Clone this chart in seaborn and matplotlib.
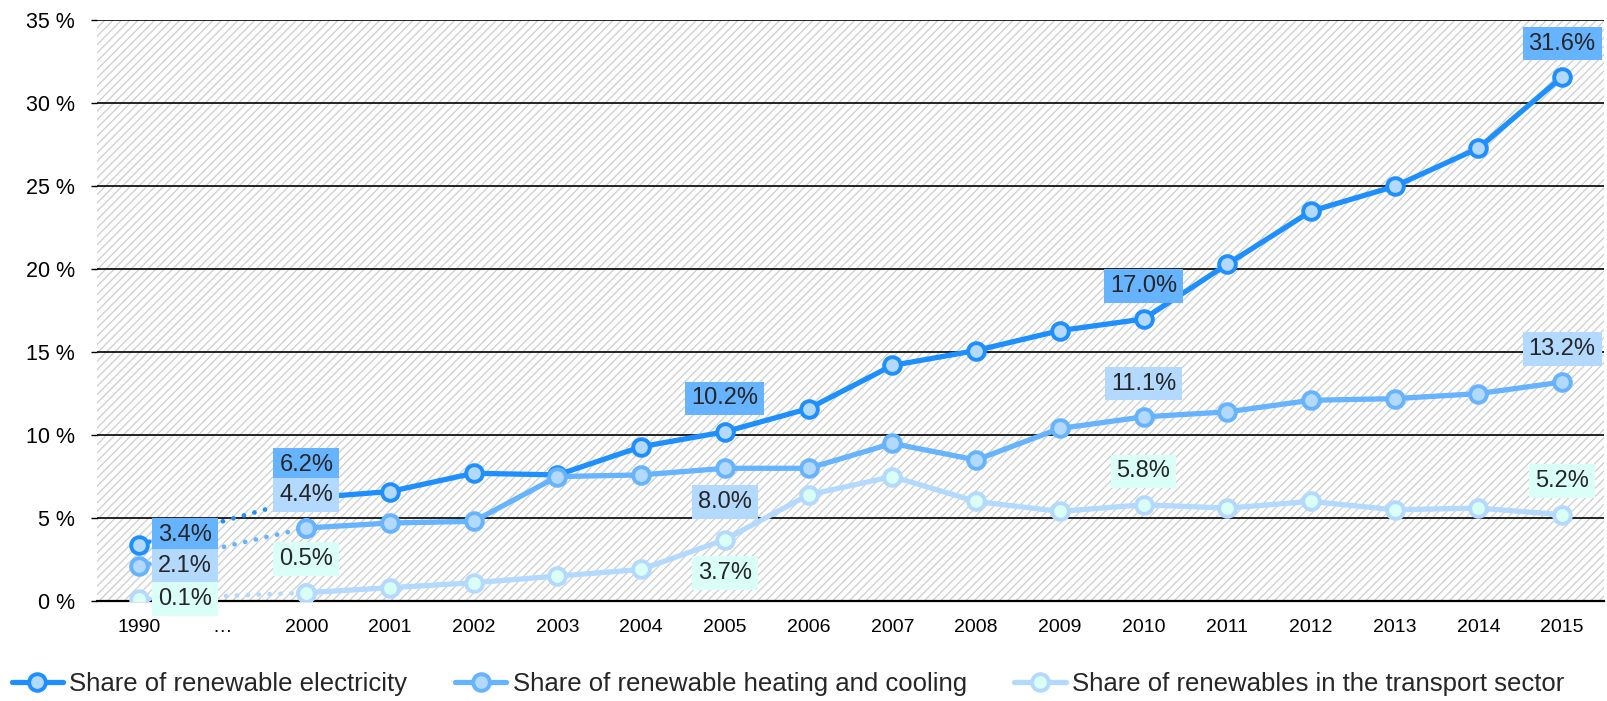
import pandas as pd
import matplotlib.pyplot as plt
import seaborn as sns
from matplotlib.patches import Rectangle
from matplotlib.lines import Line2D

sns.set_theme(style="white")
plt.rcParams['font.family'] = ['Liberation Sans', 'DejaVu Sans']
plt.rcParams['hatch.linewidth'] = 0.9

# --- data ---
years = ['1990', '…', '2000', '2001', '2002', '2003', '2004', '2005', '2006',
         '2007', '2008', '2009', '2010', '2011', '2012', '2013', '2014', '2015']
electricity = [3.4, None, 6.2, 6.6, 7.7, 7.6, 9.3, 10.2, 11.6, 14.2, 15.1,
               16.3, 17.0, 20.3, 23.5, 25.0, 27.3, 31.6]
heating = [2.1, None, 4.4, 4.7, 4.8, 7.5, 7.6, 8.0, 8.0, 9.5, 8.5,
           10.4, 11.1, 11.4, 12.1, 12.2, 12.5, 13.2]
transport = [0.1, None, 0.5, 0.8, 1.1, 1.5, 1.9, 3.7, 6.4, 7.5, 6.0,
             5.4, 5.8, 5.6, 6.0, 5.5, 5.6, 5.2]
series_names = ['Share of renewable electricity',
                'Share of renewable heating and cooling',
                'Share of renewables in the transport sector']
y_ticks = [0, 5, 10, 15, 20, 25, 30, 35]

df = pd.DataFrame({'year': years, 'pos': range(len(years)),
                   'electricity': electricity, 'heating': heating,
                   'transport': transport})

# style per series: line colour, marker face, label box colour, label placement
styles = {
    'electricity': dict(line='#1E8FFF', face='#B3D9FF', box='#66B3FF',
                        labels={0: 'right_up', 2: 'above', 7: 'above', 12: 'above', 17: 'above'}),
    'heating': dict(line='#66B3FF', face='#B3D9FF', box='#B3D9FF',
                    labels={0: 'right', 2: 'above', 7: 'below', 12: 'above', 17: 'above'}),
    'transport': dict(line='#B3D9FF', face='#D9FFF7', box='#D9FFF7',
                      labels={0: 'right', 2: 'above', 7: 'below', 12: 'above', 17: 'above'}),
}
offsets = {'above': (0, 24), 'below': (0, -24), 'right': (14, 0), 'right_up': (14, 7)}

fig = plt.figure(figsize=(16.08, 7.01), dpi=100)
ax = fig.add_axes([0.0603, 0.1427, 0.9372, 0.8281])

# hatched plot background
ax.add_patch(Rectangle((0, 0), 1, 1, transform=ax.transAxes, facecolor='white',
                       edgecolor='#cdcdcd', hatch='////', lw=0, zorder=0))

for col, st in styles.items():
    mk = dict(marker='o', markersize=12, markerfacecolor=st['face'],
              markeredgecolor=st['line'], markeredgewidth=2.8)
    # dotted bridge 1990 -> 2000
    sns.lineplot(data=df.iloc[[0, 2]], x='pos', y=col, color=st['line'], lw=3.4,
                 linestyle=(0, (0.01, 2.3)), dash_capstyle='round', ax=ax, zorder=3, **mk)
    # solid line from 2000 on
    sns.lineplot(data=df[df['pos'] >= 2], x='pos', y=col, color=st['line'], lw=3.8,
                 ax=ax, zorder=3, **mk)
    for idx, where in st['labels'].items():
        v = df[col].iloc[idx]
        dx, dy = offsets[where]
        ax.annotate(f'{v:.1f}%', xy=(idx, v), xytext=(dx, dy), textcoords='offset points',
                    ha='left' if where.startswith('right') else 'center', va='center',
                    fontsize=17, zorder=6,
                    bbox=dict(boxstyle='square,pad=0.25', fc=st['box'], ec='none'))

ax.set_xlim(-0.5, len(years) - 0.5)
ax.set_ylim(0, 35)
ax.set_yticks(y_ticks)
ax.set_yticklabels([f'{t} %' for t in y_ticks])
ax.set_xticks(range(len(years)))
ax.set_xticklabels(years)
ax.set_xticks([i - 0.5 for i in range(len(years) + 1)], minor=True)
ax.tick_params(axis='x', which='major', length=0, pad=13, labelsize=14, colors='black')
ax.tick_params(axis='x', which='minor', length=8, width=1.5, direction='out', color='black')
ax.tick_params(axis='y', length=4, width=1, direction='out', pad=12, labelsize=15.5,
               colors='black', left=True)
ax.yaxis.grid(True, color='black', lw=1.2)
ax.xaxis.grid(False)
ax.set_axisbelow(True)
ax.set_xlabel('')
ax.set_ylabel('')
for side in ['left', 'top', 'right']:
    ax.spines[side].set_visible(False)
ax.spines['bottom'].set_color('black')
ax.spines['bottom'].set_linewidth(1.6)

handles = [Line2D([], [], color=st['line'], lw=3.8, marker='o', markersize=12,
                  markerfacecolor=st['face'], markeredgecolor=st['line'], markeredgewidth=2.8)
           for st in styles.values()]
fig.legend(handles, series_names, ncol=3, loc='center left', bbox_to_anchor=(0.004, 0.024),
           frameon=False, fontsize=18.5, handlelength=2.0, handletextpad=0.25,
           columnspacing=1.85, borderaxespad=0, borderpad=0.2)

fig.savefig('out.png', dpi=100)
